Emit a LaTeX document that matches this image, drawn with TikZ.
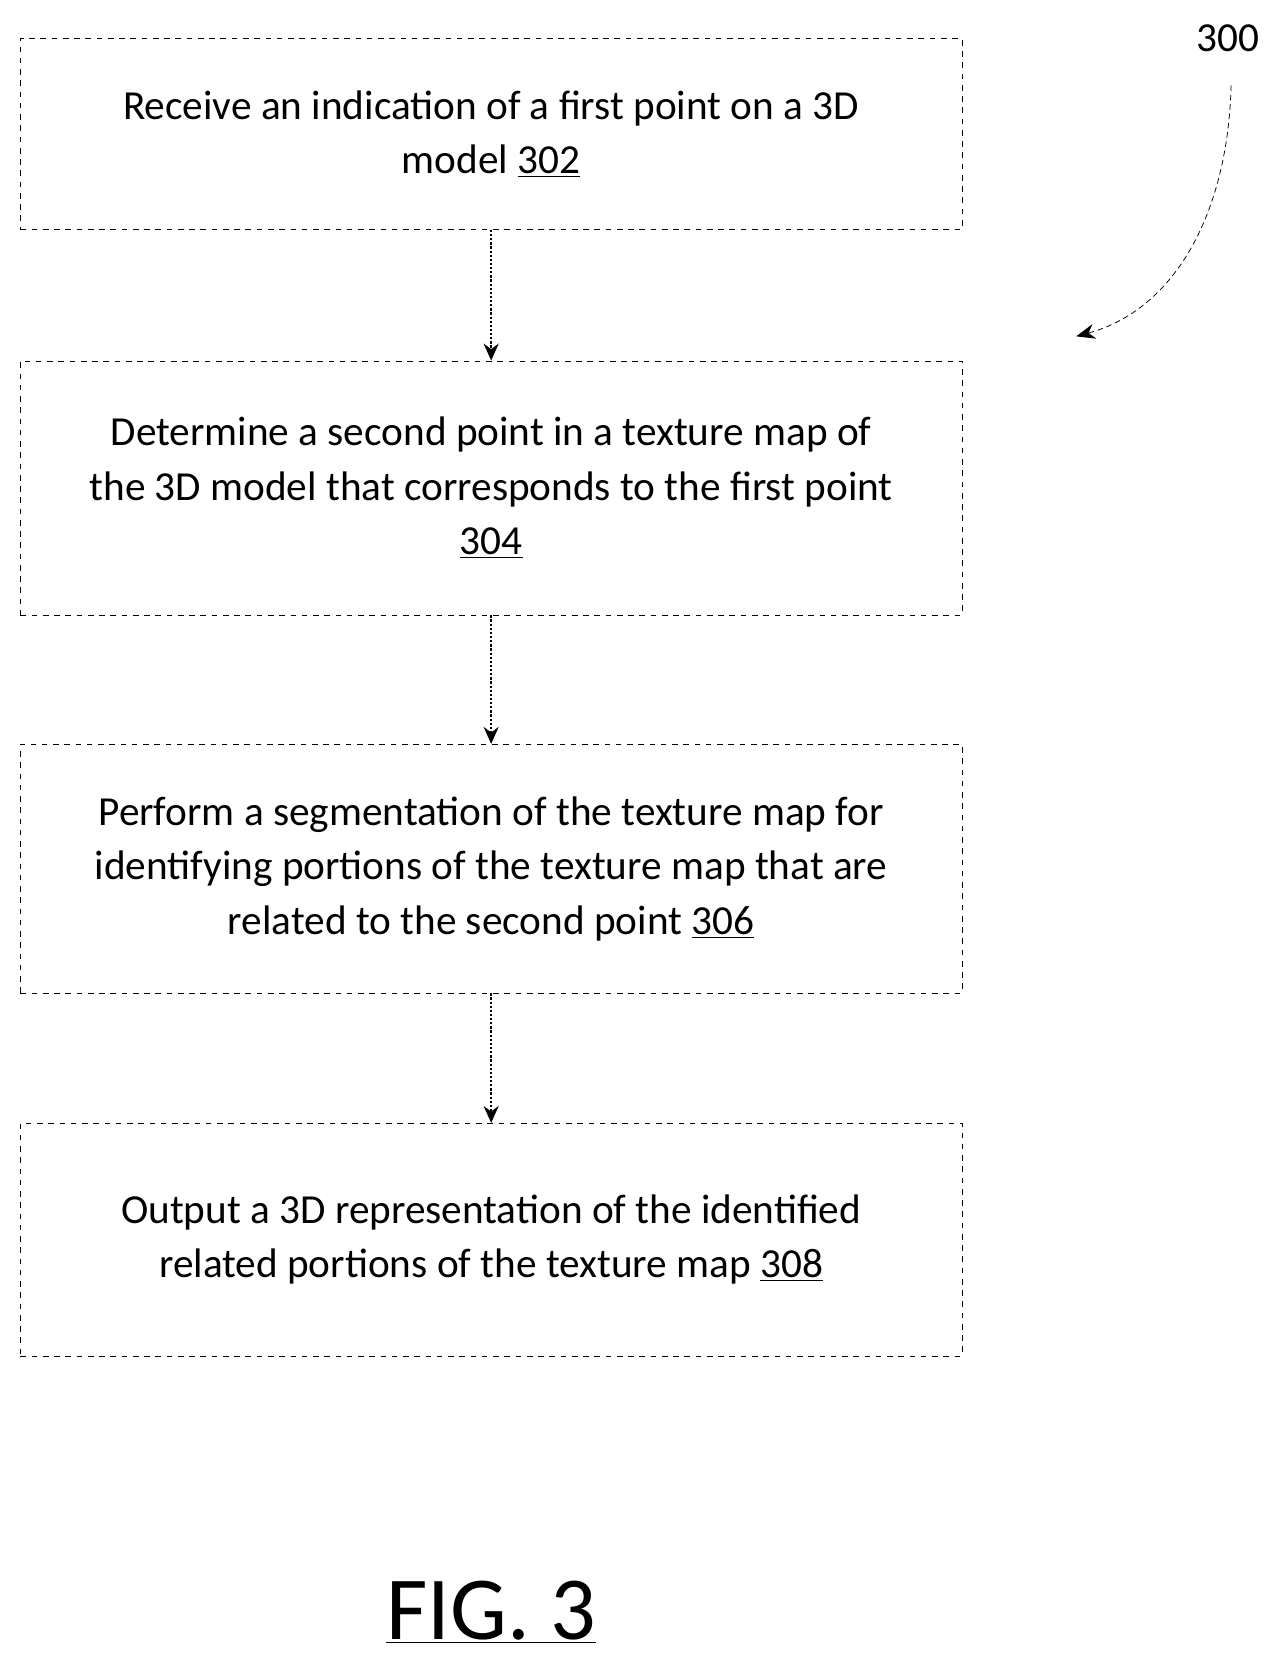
\documentclass[tikz,border=0pt]{standalone}
\usepackage{fontspec}
\setmainfont{Carlito}
\usetikzlibrary{arrows.meta}
\begin{document}
\begin{tikzpicture}[x=0.02cm,y=-0.02cm,
  box/.style={draw,dashed,thin,rectangle,minimum width=17.64cm,align=center,
    font=\fontsize{22}{29}\selectfont,inner sep=0pt},
  arr/.style={densely dotted,line width=1.2pt,-{Stealth[length=9pt,width=8pt]}}]
\useasboundingbox (0,0) rectangle (1200,1565);
\node[box,minimum height=3.58cm] (a) at (460,125.5) {Receive an indication of a first point on a 3D\\model \underline{302}};
\node[box,minimum height=4.76cm] (b) at (460,457) {Determine a second point in a texture map of\\the 3D model that corresponds to the first point\\\underline{304}};
\node[box,minimum height=4.66cm] (c) at (460,813.5) {Perform a segmentation of the texture map for\\identifying portions of the texture map that are\\related to the second point \underline{306}};
\node[box,minimum height=4.36cm] (d) at (460,1161) {Output a 3D representation of the identified\\related portions of the texture map \underline{308}};
\draw[arr] (a) -- (b);
\draw[arr] (b) -- (c);
\draw[arr] (c) -- (d);
\node[font=\fontsize{22}{26}\selectfont] (n) at (1150,36) {300};
\coordinate (t) at (1008,315);
\draw[densely dashed,thin,-{Stealth[length=10pt,width=8pt]}] (1153,80) .. controls (1150,200) and (1100,290) .. (t);
\node[font=\fontsize{48}{56}\selectfont] (f) at (460,1510) {\underline{FIG. 3}};
\end{tikzpicture}
\end{document}
